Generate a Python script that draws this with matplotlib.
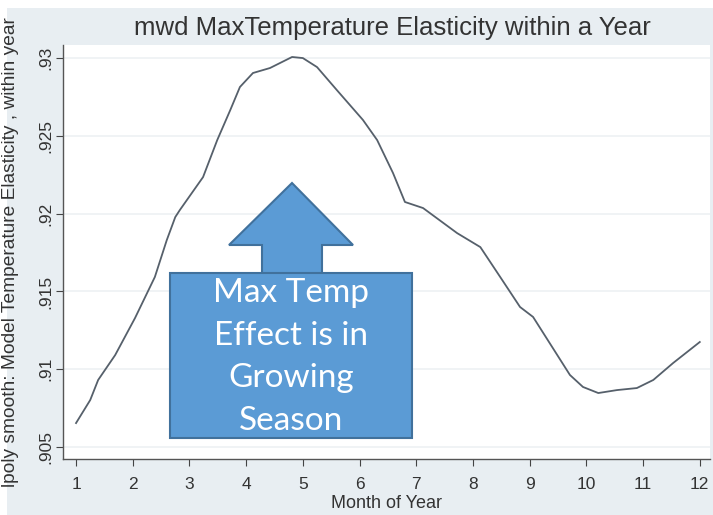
import numpy as np
import matplotlib.pyplot as plt
from matplotlib.patches import Polygon, Rectangle

plt.rcParams['font.family'] = ['Liberation Sans', 'DejaVu Sans']

# lpoly smoothed curve
month = [1.0, 1.25, 1.39, 1.69, 2.04, 2.39, 2.60, 2.75, 2.83, 3.24, 3.49, 3.72,
         3.89, 4.12, 4.42, 4.81, 5.00, 5.25, 5.60, 6.06, 6.31, 6.59, 6.80, 7.12,
         7.72, 8.13, 8.48, 8.83, 9.06, 9.71, 9.94, 10.21, 10.54, 10.89, 11.18,
         11.53, 12.0]
elasticity = [.90654, .90802, .90931, .91091, .91329, .91593, .91830, .91978,
              .92023, .92235, .92473, .92666, .92814, .92904, .92936, .93007,
              .93000, .92942, .92794, .92602, .92473, .92261, .92075, .92036,
              .91875, .91785, .91593, .91400, .91336, .90963, .90886, .90847,
              .90866, .90879, .90931, .91040, .91175]
xticks = list(range(1, 13))
yticks = [.905, .91, .915, .92, .925, .93]
ytick_labels = ['.905', '.91', '.915', '.92', '.925', '.93']

W, H = 713, 515
bg = '#e8eef2'
fig = plt.figure(figsize=(W / 100, H / 100), dpi=100, facecolor='white')

# slide-like background panel (white strip on top/left)
fig.patches.append(Rectangle((7 / W, 0), 1, 1 - 8 / H, transform=fig.transFigure,
                             facecolor=bg, edgecolor='none', zorder=-5))

ax = fig.add_axes([63 / W, 1 - 459 / H, 647 / W, 414 / H])
ax.set_facecolor('white')
ax.plot(month, elasticity, color='#56606b', linewidth=1.3)

ax.set_xlim(0.77, 12.18)
ax.set_ylim(.90423, .93084)
ax.set_xticks(xticks)
ax.set_yticks(yticks)
ax.set_yticklabels(ytick_labels, rotation=90, va='center')
ax.tick_params(axis='both', direction='out', length=5, color='#444444',
               labelsize=12.5, labelcolor='#333333')
ax.tick_params(axis='x', pad=8)
ax.tick_params(axis='y', pad=2)
ax.grid(axis='y', color='#eef1f3', linewidth=1.2)
ax.set_axisbelow(True)
for s in ['top', 'right']:
    ax.spines[s].set_visible(False)
for s in ['left', 'bottom']:
    ax.spines[s].set_color('#555555')
    ax.spines[s].set_linewidth(1.0)

ax.set_xlabel('Month of Year', fontsize=13, color='#333333', labelpad=2)
ax.set_ylabel('lpoly smooth: Model Temperature Elasticity , within year',
              fontsize=13.8, color='#333333', labelpad=1)
ax.yaxis.set_label_coords(-(63 - 19) / 647, 0.5)
fig.text(392 / W, 1 - 28 / H, 'mwd MaxTemperature Elasticity within a Year',
         fontsize=18.5, color='#333333', ha='center', va='center')

# callout: up arrow + text box
def px(x, y):
    return (x / W, 1 - y / H)

arrow = [px(292, 183), px(353, 245), px(322, 245), px(322, 275),
         px(262, 275), px(262, 245), px(229, 245)]
fig.patches.append(Polygon(arrow, closed=True, transform=fig.transFigure,
                           facecolor='#5b9bd5', edgecolor='#41719c', linewidth=1.5, zorder=5))
x0, y0 = px(170, 438)
x1, y1 = px(412, 273)
fig.patches.append(Rectangle((x0, y0), x1 - x0, y1 - y0, transform=fig.transFigure,
                             facecolor='#5b9bd5', edgecolor='#41719c', linewidth=1.5, zorder=6))
fig.text(291 / W, 1 - 357 / H, 'Max Temp\nEffect is in\nGrowing\nSeason',
         family=['Lato', 'DejaVu Sans'], fontsize=24, color='white',
         ha='center', va='center', linespacing=1.53, zorder=7)

fig.savefig('out.png', dpi=100, facecolor=fig.get_facecolor())
